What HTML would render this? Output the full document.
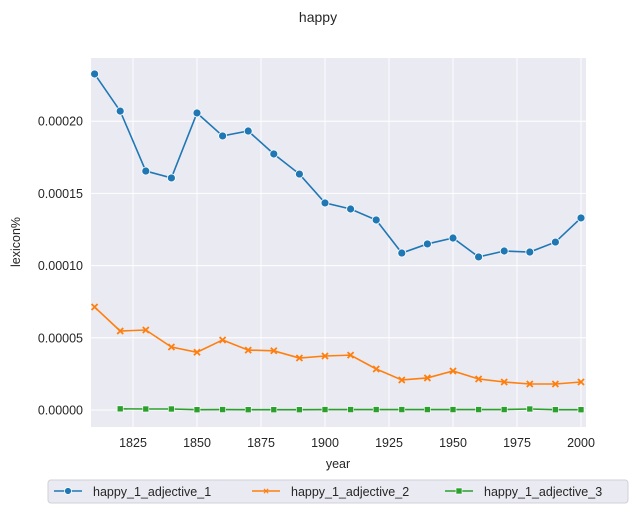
<!DOCTYPE html>
<html><head><meta charset="utf-8"><style>
body{margin:0;background:#fff;font-family:"Liberation Sans",Arial,sans-serif;}
svg text{font-family:"Liberation Sans",Arial,sans-serif;fill:#262626;}
</style></head><body>
<svg id="chart" width="636" height="515" xmlns="http://www.w3.org/2000/svg">
<text x="318" y="22" text-anchor="middle" font-size="14">happy</text>
<rect x="91" y="58" width="495" height="369" fill="#eaeaf2"/>
<g id="grid"></g><g id="series"></g><g id="axes"></g>
<text x="338" y="468" text-anchor="middle" font-size="12.5">year</text>
<text transform="translate(20,242) rotate(-90)" text-anchor="middle" font-size="12.5">lexicon%</text>
<g>
<rect x="48" y="480" width="580" height="23" rx="3" fill="#eaeaf2" stroke="#d0d0d8"/>
<g><line x1="54" y1="491" x2="82" y2="491" stroke="#1f77b4" stroke-width="1.5"/><circle cx="68" cy="491" r="3.5" fill="#1f77b4" stroke="#fff" stroke-width="0.8"/><text x="93" y="496" font-size="12.5">happy_1_adjective_1</text></g>
<g><line x1="252" y1="491" x2="280" y2="491" stroke="#ff7f0e" stroke-width="1.5"/><text x="266" y="494.5" font-size="10" font-weight="bold" text-anchor="middle" style="fill:#ff7f0e">×</text><text x="291" y="496" font-size="12.5">happy_1_adjective_2</text></g>
<g><line x1="445" y1="491" x2="473" y2="491" stroke="#2ca02c" stroke-width="1.5"/><rect x="456" y="488" width="6" height="6" fill="#2ca02c" stroke="#fff" stroke-width="0.6"/><text x="484" y="496" font-size="12.5">happy_1_adjective_3</text></g>
</g>
</svg>
<script>
const years=[1810,1820,1830,1840,1850,1860,1870,1880,1890,1900,1910,1920,1930,1940,1950,1960,1970,1980,1990,2000];
const adj1=[2.327e-4,2.07e-4,1.655e-4,1.607e-4,2.057e-4,1.898e-4,1.932e-4,1.773e-4,1.634e-4,1.434e-4,1.392e-4,1.316e-4,1.087e-4,1.15e-4,1.191e-4,1.06e-4,1.101e-4,1.094e-4,1.163e-4,1.33e-4];
const adj2=[7.13e-5,5.47e-5,5.54e-5,4.36e-5,4.0e-5,4.85e-5,4.15e-5,4.1e-5,3.6e-5,3.74e-5,3.8e-5,2.84e-5,2.08e-5,2.22e-5,2.7e-5,2.15e-5,1.94e-5,1.8e-5,1.8e-5,1.94e-5];
const years3=years.slice(1);
const adj3=[8e-7,7e-7,7e-7,2e-7,3e-7,2e-7,2e-7,2e-7,3e-7,3e-7,3e-7,3e-7,3e-7,3e-7,3e-7,3e-7,7e-7,2e-7,2e-7];
const xTicks=[1825,1850,1875,1900,1925,1950,1975,2000];
const yTicks=[0,0.00005,0.0001,0.00015,0.0002];
const yTickLabels=["0.00000","0.00005","0.00010","0.00015","0.00020"];
const NS="http://www.w3.org/2000/svg";
const xs=v=>197+(v-1850)*2.56;
const ys=v=>410-v/0.00005*72.2;
function mk(tag,attrs,parent){const e=document.createElementNS(NS,tag);for(const k in attrs)e.setAttribute(k,attrs[k]);parent.appendChild(e);return e;}
const grid=document.getElementById('grid'),axes=document.getElementById('axes'),ser=document.getElementById('series');
xTicks.forEach(t=>{const l=mk('line',{x1:xs(t),x2:xs(t),y1:58,y2:427,stroke:'#fff','stroke-width':1},grid);


const tx=mk('text',{x:xs(t),y:447,'text-anchor':'middle','font-size':12.5},axes);tx.textContent=t;

});
yTicks.forEach((t,i)=>{const l=mk('line',{x1:91,x2:586,y1:ys(t),y2:ys(t),stroke:'#fff','stroke-width':1},grid);


const tx=mk('text',{x:83,y:ys(t)+4.5,'text-anchor':'end','font-size':12.5},axes);tx.textContent=yTickLabels[i];

});
function draw(xv,yv,color,marker,name){
 const g=mk('g',{},ser);
 
 
 mk('polyline',{points:xv.map((x,i)=>xs(x)+','+ys(yv[i])).join(' '),fill:'none',stroke:color,'stroke-width':1.6},g);
 xv.forEach((x,i)=>{const cx=xs(x),cy=ys(yv[i]);let m;
  if(marker==='o')m=mk('circle',{cx,cy,r:4,fill:color,stroke:'#fff','stroke-width':0.8},g);
  else if(marker==='s')m=mk('rect',{x:cx-3,y:cy-3,width:6,height:6,fill:color,stroke:'#fff','stroke-width':0.6},g);
  else m=mk('path',{d:`M${cx-3},${cy-3}L${cx+3},${cy+3}M${cx-3},${cy+3}L${cx+3},${cy-3}`,stroke:color,'stroke-width':1.8},g);
  
  });
}
draw(years,adj1,'#1f77b4','o','series-adjective-1');
draw(years,adj2,'#ff7f0e','x','series-adjective-2');
draw(years3,adj3,'#2ca02c','s','series-adjective-3');
</script>
</body></html>
